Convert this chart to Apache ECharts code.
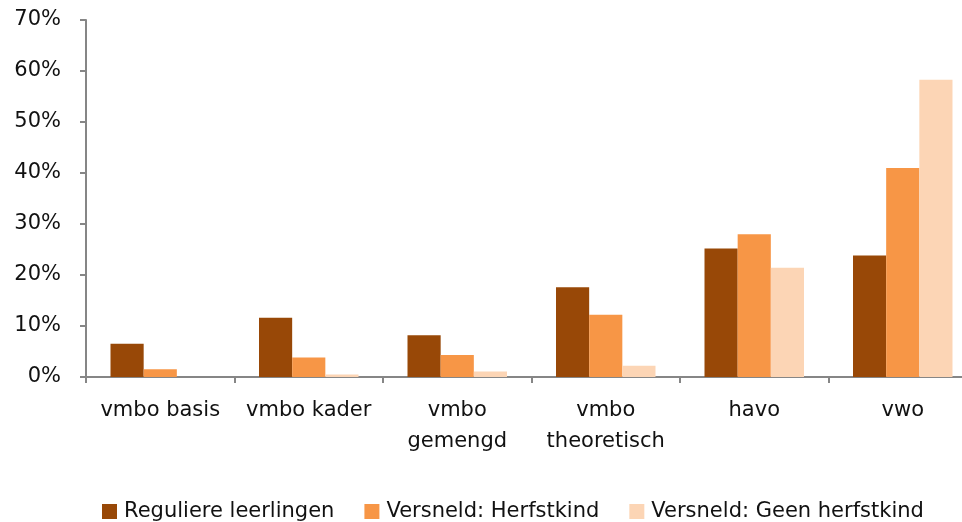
<!DOCTYPE html>
<html>
<head>
<meta charset="utf-8">
<script src="https://cdn.jsdelivr.net/npm/echarts@6/dist/echarts.min.js"></script>
<style>
  html, body { margin: 0; padding: 0; background: #fff; }
  #chart { width: 962px; height: 522px; }
</style>
</head>
<body>
<div id="chart"></div>
<script>
var categories = ['vmbo basis', 'vmbo kader', 'vmbo\ngemengd', 'vmbo\ntheoretisch', 'havo', 'vwo'];
var seriesNames = ['Reguliere leerlingen', 'Versneld: Herfstkind', 'Versneld: Geen herfstkind'];
var regulier = [6.5, 11.6, 8.2, 17.6, 25.2, 23.8];
var herfstkind = [1.5, 3.8, 4.3, 12.2, 28.0, 41.0];
var geenHerfstkind = [0, 0.5, 1.1, 2.2, 21.4, 58.3];
var colors = ['#984807', '#F79646', '#FCD5B5'];

var font = '"DejaVu Sans", sans-serif';
var axisColor = '#868686';

var chart = echarts.init(document.getElementById('chart'));

function bar(name, data, i) {
    return {
        name: name,
        type: 'bar',
        data: data,
        barGap: '0%',
        barCategoryGap: '33%',
        itemStyle: { color: colors[i] },
        animation: false
    };
}

chart.setOption({
    backgroundColor: '#fff',
    textStyle: { fontFamily: font },
    // the plot runs past the right edge of the picture, as in the original
    grid: { left: 86, top: 20, width: 891, bottom: 145, containLabel: false, outerBoundsMode: 'none' },
    legend: {
        top: 496,
        left: 97,
        itemWidth: 15,
        itemHeight: 15,
        itemGap: 30,
        icon: 'rect',
        textStyle: { fontSize: 21, color: '#111', fontFamily: font, padding: [0, 0, 0, 2] },
        data: seriesNames
    },
    xAxis: {
        type: 'category',
        data: categories,
        axisLine: { lineStyle: { color: axisColor, width: 2 } },
        axisTick: { show: true, length: 6, lineStyle: { color: axisColor, width: 2 } },
        axisLabel: { color: '#111', fontSize: 21, margin: 18, lineHeight: 31, interval: 0 }
    },
    yAxis: {
        type: 'value',
        min: 0,
        max: 70,
        interval: 10,
        axisLine: { show: true, lineStyle: { color: axisColor, width: 2 } },
        axisTick: { show: true, length: 6, lineStyle: { color: axisColor, width: 2 } },
        splitLine: { show: false },
        axisLabel: { color: '#111', fontSize: 21, margin: 25, formatter: '{value}%' }
    },
    series: [
        bar(seriesNames[0], regulier, 0),
        bar(seriesNames[1], herfstkind, 1),
        bar(seriesNames[2], geenHerfstkind, 2)
    ]
});
</script>
</body>
</html>
